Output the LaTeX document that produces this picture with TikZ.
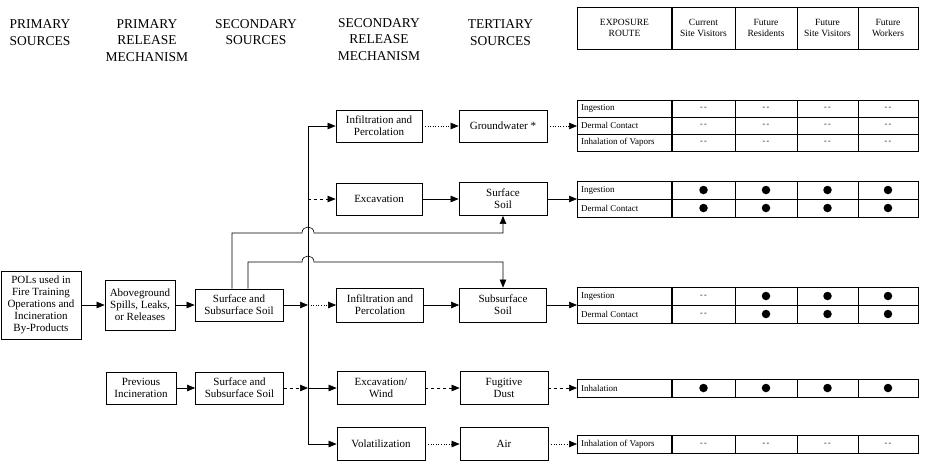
\documentclass[tikz,border=0pt]{standalone}
\usepackage{fontspec}
\setmainfont{Liberation Serif}
\usetikzlibrary{arrows.meta}
\begin{document}
\begin{tikzpicture}[x=1pt,y=-1pt,
 box/.style={draw,line width=0.8pt,align=center,inner sep=1pt,font=\fontsize{11}{12}\selectfont},
 hdr/.style={align=center,font=\fontsize{13.5}{16.8}\selectfont},
 conn/.style={line width=0.6pt},
 arr/.style={conn,-{Triangle[length=8pt,width=6.5pt]}},
 tlab/.style={font=\fontsize{9}{10}\selectfont,anchor=west,inner sep=0pt},
 thdr/.style={font=\fontsize{9.5}{11}\selectfont,align=center,inner sep=0pt},
 tval/.style={font=\fontsize{8}{9}\selectfont,inner sep=0pt},
 fdot/.style={circle,fill,inner sep=0pt,minimum size=8.5pt},
 tline/.style={line width=0.6pt},
 tthick/.style={line width=1.5pt}
]
\useasboundingbox (0,0) rectangle (926,467);

% column headers
\node[hdr] (h1) at (40,33) {PRIMARY\\SOURCES};
\node[hdr] (h2) at (147,40.5) {PRIMARY\\RELEASE\\MECHANISM};
\node[hdr] (h3) at (256,32) {SECONDARY\\SOURCES};
\node[hdr] (h4) at (379,39.5) {SECONDARY\\RELEASE\\MECHANISM};
\node[hdr] (h5) at (500.5,33) {TERTIARY\\SOURCES};

% table header
\draw[tline] (577,7) rectangle (918,49);
\draw[tline] (735,7) -- (735,49) (797,7) -- (797,49) (858,7) -- (858,49);
\draw[tthick] (672,7) -- (672,49);
\node[thdr] (th0) at (624.5,28) {EXPOSURE\\ROUTE};
\node[thdr] (th1) at (703.5,28) {Current\\Site Visitors};
\node[thdr] (th2) at (766,28) {Future\\Residents};
\node[thdr] (th3) at (827.5,28) {Future\\Site Visitors};
\node[thdr] (th4) at (888,28) {Future\\Workers};

% source boxes
\node[box,minimum width=80pt,minimum height=68pt] (pol) at (41,305) {POLs used in\\Fire Training\\Operations and\\Incineration\\By-Products};
\node[box,minimum width=70pt,minimum height=50pt] (abv) at (140,305) {Aboveground\\Spills, Leaks,\\or Releases};
\node[box,minimum width=88pt,minimum height=32pt] (ss1) at (239,305) {Surface and\\Subsurface Soil};
\node[box,minimum width=70pt,minimum height=32pt] (prev) at (141,388) {Previous\\Incineration};
\node[box,minimum width=88pt,minimum height=32pt] (ss2) at (239.5,388) {Surface and\\Subsurface Soil};

% secondary release mechanisms
\node[box,minimum width=86pt,minimum height=32pt] (inf1) at (379,126) {Infiltration and\\Percolation};
\node[box,minimum width=86pt,minimum height=32pt] (exc) at (379,199) {Excavation};
\node[box,minimum width=87pt,minimum height=34pt] (inf2) at (380,305) {Infiltration and\\Percolation};
\node[box,minimum width=88pt,minimum height=33pt] (excw) at (381,388) {Excavation/\\Wind};
\node[box,minimum width=88pt,minimum height=33pt] (vol) at (381,444) {Volatilization};

% tertiary sources
\node[box,minimum width=88pt,minimum height=32pt] (gw) at (503,126) {Groundwater *};
\node[box,minimum width=88pt,minimum height=33pt] (ssoil) at (503,199) {Surface\\Soil};
\node[box,minimum width=87pt,minimum height=34pt] (subs) at (503,305) {Subsurface\\Soil};
\node[box,minimum width=88pt,minimum height=33pt] (dust) at (504,388) {Fugitive\\Dust};
\node[box,minimum width=88pt,minimum height=33pt] (air) at (504,444) {Air};

% bus coordinates
\coordinate (b1) at (308,126);
\coordinate (b2) at (308,199);
\coordinate (b3) at (308,305);
\coordinate (b4) at (308,388);
\coordinate (b5) at (308,444);
\draw[conn] (b1) -- (b5);

% left connectors
\draw[arr] (pol) -- (abv);
\draw[arr] (abv) -- (ss1);
\draw[arr] (prev) -- (ss2);
\draw[arr] (ss1.east) -- (b3);
\draw[arr,dashed] (ss2.east) -- (b4);

% bus to secondary mechanisms
\draw[arr] (b1) -- (inf1.west);
\draw[arr,dashed] (b2) -- (exc.west);
\draw[arr,dotted] (b3) -- (inf2.west);
\draw[arr] (b4) -- (excw.west);
\draw[arr] (b5) -- (vol.west);

% secondary to tertiary
\draw[arr,dotted] (inf1) -- (gw);
\draw[arr] (exc) -- (ssoil);
\draw[arr] (inf2) -- (subs);
\draw[arr,dashed] (excw) -- (dust);
\draw[arr,dotted] (vol) -- (air);

% hop lines from surface and subsurface soil
\coordinate (k1) at (503,233);
\coordinate (k2) at (503,262);
\draw[arr] ([xshift=-7pt]ss1.north) |- (302,233) .. controls (302,225) and (314,225) .. (314,233) -- (k1) -- (ssoil.south);
\draw[arr] ([xshift=9pt]ss1.north) |- (302,262) .. controls (302,254) and (314,254) .. (314,262) -- (k2) -- (subs.north);

% table 1 (groundwater)
\draw[tline] (577,100) rectangle (918,151);
\draw[tline] (577,117) -- (918,117) (577,134) -- (918,134);
\draw[tline] (735,100) -- (735,151) (797,100) -- (797,151) (858,100) -- (858,151);
\draw[tthick] (672,100) -- (672,151);
\node[tlab] (t1a) at (581,108.5) {Ingestion};
\node[tlab] (t1b) at (581,125.5) {Dermal Contact};
\node[tlab] (t1c) at (581,142.5) {Inhalation of Vapors};
\foreach \y [count=\i] in {108.5,125.5,142.5}
  \foreach \x [count=\j] in {703.5,766,827.5,888}
    \node[tval] (t1-\i-\j) at (\x,\y) {-\,-};
\coordinate (t1in) at (577,126);
\draw[arr,dotted] (gw.east) -- (t1in);

% table 2 (surface soil)
\draw[tline] (577,181) rectangle (918,217);
\draw[tline] (577,199) -- (918,199);
\draw[tline] (735,181) -- (735,217) (797,181) -- (797,217) (858,181) -- (858,217);
\draw[tthick] (672,181) -- (672,217);
\node[tlab] (t2a) at (581,190) {Ingestion};
\node[tlab] (t2b) at (581,208) {Dermal Contact};
\foreach \y [count=\i] in {190,208}
  \foreach \x [count=\j] in {703.5,766,827.5,888}
    \node[fdot] (t2-\i-\j) at (\x,\y) {};
\coordinate (t2in) at (577,199);
\draw[arr] (ssoil.east) -- (t2in);

% table 3 (subsurface soil)
\draw[tline] (577,287) rectangle (918,323);
\draw[tline] (577,305) -- (918,305);
\draw[tline] (735,287) -- (735,323) (797,287) -- (797,323) (858,287) -- (858,323);
\draw[tthick] (672,287) -- (672,323);
\node[tlab] (t3a) at (581,296) {Ingestion};
\node[tlab] (t3b) at (581,314) {Dermal Contact};
\foreach \y [count=\i] in {296,314}{
  \node[tval] (t3-\i-1) at (703.5,\y) {-\,-};
  \foreach \x [count=\j from 2] in {766,827.5,888}
    \node[fdot] (t3-\i-\j) at (\x,\y) {};
}
\coordinate (t3in) at (577,305);
\draw[arr] (subs.east) -- (t3in);

% table 4 (fugitive dust)
\draw[tline] (577,379) rectangle (918,397);
\draw[tline] (735,379) -- (735,397) (797,379) -- (797,397) (858,379) -- (858,397);
\draw[tthick] (672,379) -- (672,397);
\node[tlab] (t4a) at (581,388) {Inhalation};
\foreach \x [count=\j] in {703.5,766,827.5,888}
  \node[fdot] (t4-\j) at (\x,388) {};
\coordinate (t4in) at (577,388);
\draw[arr,dashed] (dust.east) -- (t4in);

% table 5 (air)
\draw[tline] (577,435) rectangle (918,453);
\draw[tline] (735,435) -- (735,453) (797,435) -- (797,453) (858,435) -- (858,453);
\draw[tthick] (672,435) -- (672,453);
\node[tlab] (t5a) at (581,444) {Inhalation of Vapors};
\foreach \x [count=\j] in {703.5,766,827.5,888}
  \node[tval] (t5-\j) at (\x,444) {-\,-};
\coordinate (t5in) at (577,444);
\draw[arr,dotted] (air.east) -- (t5in);
\end{tikzpicture}
\end{document}
